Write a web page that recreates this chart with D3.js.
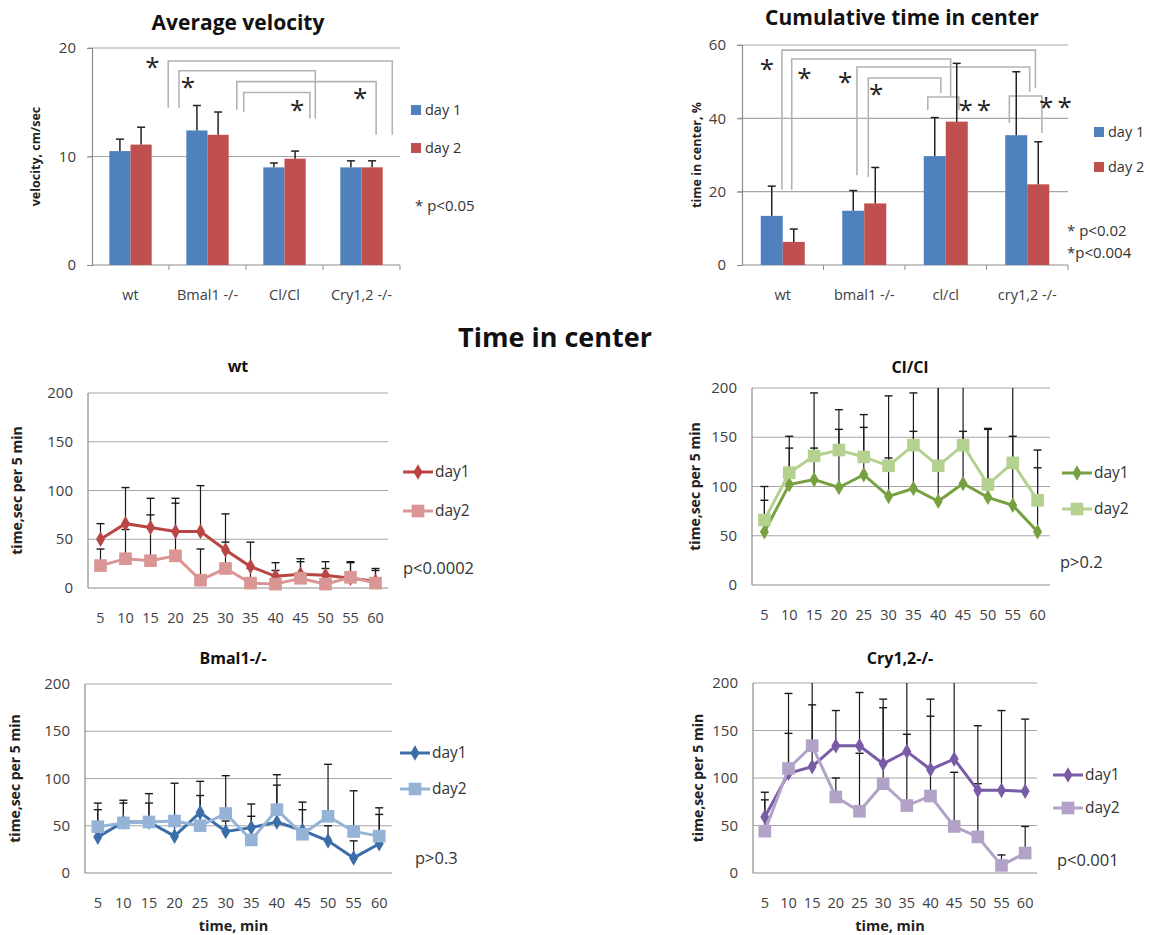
<!DOCTYPE html>
<html>
<head>
<meta charset="utf-8">
<script src="https://cdn.jsdelivr.net/npm/d3@7"></script>
<style>
  body { margin: 0; background: #fff; }
  text { font-family: "Open Sans", "DejaVu Sans", sans-serif; }
</style>
</head>
<body>
<svg id="fig" width="1150" height="935"></svg>
<script>
// ---- data: top bar charts ----
const groups = ['wt', 'Bmal1 -/-', 'Cl/Cl', 'Cry1,2 -/-'];
const groupsLower = ['wt', 'bmal1 -/-', 'cl/cl', 'cry1,2 -/-'];

const velDay1 = [10.5, 12.4, 9.0, 9.0];
const velDay1Top = [11.6, 14.7, 9.4, 9.6];   // mean + SD
const velDay2 = [11.1, 12.0, 9.8, 9.0];
const velDay2Top = [12.7, 14.1, 10.5, 9.6];
const velTicks = [0, 10, 20];

const cenDay1 = [13.4, 14.8, 29.7, 35.4];
const cenDay1Top = [21.5, 20.3, 40.2, 52.7];
const cenDay2 = [6.3, 16.8, 39.1, 22.0];
const cenDay2Top = [9.8, 26.6, 55.0, 33.6];
const cenTicks = [0, 20, 40, 60];

// significance brackets: [left, right] in group units, [top, leftEnd, rightEnd] in data units
const velBrackets = [
  [0.99, 3.90, 18.8, 14.5, 12.0],
  [1.13, 2.90, 17.9, 14.5, 13.5],
  [1.88, 3.69, 16.9, 14.3, 12.0],
  [1.97, 2.83, 15.9, 14.1, 13.5]
];
const velStars = [[0.81, 18.6, '*'], [1.27, 16.8, '*'], [2.69, 14.7, '*'], [3.51, 15.8, '*']];

const cenBrackets = [
  [0.49, 3.60, 58.6, 20.5, 48.3],
  [0.61, 2.56, 56.2, 20.5, 45.8],
  [1.41, 3.53, 54.0, 24.5, 47.2],
  [1.55, 2.44, 51.0, 24.0, 46.9],
  [2.28, 2.66, 45.8, 42.3, 42.3],
  [3.28, 3.68, 46.1, 38.7, 36.0]
];
const cenStars = [[0.33, 54.5, '*'], [0.79, 52.1, '*'], [1.29, 51.0, '*'], [1.67, 47.7, '*'],
                  [2.88, 43.4, '**'], [3.87, 44.2, '**']];

// ---- data: time course charts ----
const minutes = [5, 10, 15, 20, 25, 30, 35, 40, 45, 50, 55, 60];
const lineTicks = [0, 50, 100, 150, 200];

const wtDay1 = [50, 66, 62, 58, 58, 39, 22, 12, 14, 13, 10, 7];
const wtDay1Top = [66, 103, 92, 92, 105, 76, 47, 26, 30, 27, 27, 20];
const wtDay2 = [23, 30, 28, 33, 8, 20, 5, 4, 10, 4, 11, 5];
const wtDay2Top = [40, 60, 75, 87, 40, 47, 20, 18, 27, 20, 26, 18];

const clDay1 = [54, 102, 107, 99, 112, 90, 98, 85, 103, 89, 81, 54];
const clDay1Top = [86, 139, 139, 158, 160, 129, 156, 215, 156, 158, 151, 119];
const clDay2 = [66, 114, 131, 137, 130, 121, 142, 121, 142, 102, 124, 86];
const clDay2Top = [100, 151, 195, 178, 173, 192, 195, 230, 230, 159, 230, 137];

const bmDay1 = [38, 54, 54, 39, 64, 44, 48, 54, 45, 34, 16, 31];
const bmDay1Top = [67, 74, 74, 50, 82, 55, 60, 93, 67, 50, 34, 62];
const bmDay2 = [49, 53, 54, 55, 50, 63, 35, 67, 41, 60, 44, 39];
const bmDay2Top = [74, 77, 84, 95, 97, 103, 73, 104, 75, 115, 87, 69];

const cryDay1 = [59, 105, 112, 134, 134, 115, 128, 109, 120, 87, 87, 86];
const cryDay1Top = [85, 147, 177, 171, 190, 174, 215, 165, 215, 155, 171, 162];
const cryDay2 = [44, 110, 134, 80, 65, 94, 71, 81, 49, 38, 8, 21];
const cryDay2Top = [77, 189, 215, 100, 126, 183, 146, 183, 106, 94, 19, 49];

// ---- colours ----
const barBlue = '#4f81bd';
const barRed = '#c0504d';
const gridColor = '#a6a6a6';
const bracketColor = '#b3b3b3';
const tickText = '#404040';

const svg = d3.select('#fig');

function barChart(o) {
  const x = d3.scaleBand().domain(o.cats).range([o.left, o.right])
    .paddingInner(o.pad).paddingOuter(o.pad / 2);
  const xs = d3.scaleBand().domain(['d1', 'd2']).range([0, x.bandwidth()]);
  const gx = d3.scaleLinear().domain([0, o.cats.length]).range([o.left, o.right]);
  const y = d3.scaleLinear().domain([0, o.max]).range([o.bottom, o.top]);
  const g = svg.append('g');

  g.append('text').attr('x', o.titleX).attr('y', o.titleY).attr('text-anchor', 'middle')
    .attr('font-size', 21).attr('font-weight', 'bold').attr('fill', '#111').text(o.title);

  g.selectAll('.grid').data(o.ticks.filter(t => t > 0)).join('line')
    .attr('x1', o.left - 4).attr('x2', o.right)
    .attr('y1', d => y(d)).attr('y2', d => y(d))
    .attr('stroke', gridColor).attr('stroke-width', 1.2);

  const ya = g.append('g').attr('transform', `translate(${o.left},0)`)
    .call(d3.axisLeft(y).tickValues(o.ticks).tickSize(5).tickPadding(11));
  ya.select('.domain').attr('stroke', '#8c8c8c').attr('stroke-width', 1.2);
  ya.selectAll('.tick line').attr('stroke', '#8c8c8c');
  ya.selectAll('.tick text').attr('font-size', 15).attr('fill', tickText)
    .style('font-family', '"Open Sans", sans-serif');

  g.append('line').attr('x1', o.left).attr('x2', o.right)
    .attr('y1', o.bottom).attr('y2', o.bottom)
    .attr('stroke', '#8c8c8c').attr('stroke-width', 1.2);
  g.selectAll('.xt').data(d3.range(1, o.cats.length + 1)).join('line')
    .attr('x1', d => gx(d)).attr('x2', d => gx(d))
    .attr('y1', o.bottom).attr('y2', o.bottom + 5)
    .attr('stroke', '#8c8c8c');
  g.selectAll('.xl').data(o.cats).join('text')
    .attr('x', d => x(d) + x.bandwidth() / 2).attr('y', o.bottom + 35)
    .attr('text-anchor', 'middle').attr('font-size', 14.5).attr('fill', tickText)
    .text(d => d);

  g.append('text').attr('transform', `translate(${o.ylabX},${(o.top + o.bottom) / 2}) rotate(-90)`)
    .attr('text-anchor', 'middle').attr('font-size', 12.5).attr('font-weight', 'bold')
    .attr('fill', '#222').text(o.ylab);

  // brackets
  g.selectAll('.br').data(o.brackets).join('path')
    .attr('d', b => `M${gx(b[0])},${y(b[3])}V${y(b[2])}H${gx(b[1])}V${y(b[4])}`)
    .attr('fill', 'none').attr('stroke', bracketColor).attr('stroke-width', 1.6);
  g.selectAll('.st').data(o.stars).join('text')
    .attr('x', s => gx(s[0])).attr('y', s => y(s[1]) + 13)
    .attr('text-anchor', 'middle').attr('font-size', 26).attr('fill', '#222')
    .attr('letter-spacing', 4)
    .text(s => s[2]);

  const rows = o.cats.flatMap((c, i) => [
    { c, k: 'd1', v: o.d1[i], top: o.d1Top[i], color: barBlue },
    { c, k: 'd2', v: o.d2[i], top: o.d2Top[i], color: barRed }
  ]);
  g.selectAll('.bar').data(rows).join('rect')
    .attr('x', d => x(d.c) + xs(d.k)).attr('width', xs.bandwidth())
    .attr('y', d => y(d.v)).attr('height', d => o.bottom - y(d.v))
    .attr('fill', d => d.color);
  const eb = g.selectAll('.eb').data(rows).join('g')
    .attr('transform', d => `translate(${x(d.c) + xs(d.k) + xs.bandwidth() / 2},0)`);
  eb.append('line').attr('y1', d => y(d.v)).attr('y2', d => y(d.top))
    .attr('stroke', '#222').attr('stroke-width', 1.5);
  eb.append('line').attr('x1', -4).attr('x2', 4)
    .attr('y1', d => y(d.top)).attr('y2', d => y(d.top))
    .attr('stroke', '#222').attr('stroke-width', 1.5);

  // legend
  const lg = g.selectAll('.lg').data([['day 1', barBlue, o.legY[0]], ['day 2', barRed, o.legY[1]]])
    .join('g').attr('transform', d => `translate(${o.legX},${d[2]})`);
  lg.append('rect').attr('x', 0).attr('y', -5).attr('width', 10).attr('height', 10)
    .attr('fill', d => d[1]);
  lg.append('text').attr('x', 14).attr('y', 5).attr('font-size', 14.5).attr('fill', '#333')
    .text(d => d[0]);

  g.selectAll('.pv').data(o.pText).join('text')
    .attr('x', o.pX).attr('y', (d, i) => o.pY + i * 22)
    .attr('font-size', 15).attr('fill', '#333').text(d => d);
}

function lineChart(o) {
  const x = d3.scaleBand().domain(minutes).range([o.left, o.right]);
  const px = m => x(m) + x.bandwidth() / 2;
  const y = d3.scaleLinear().domain([0, 200]).range([o.bottom, o.top]);
  const g = svg.append('g');

  g.append('text').attr('x', o.titleX).attr('y', o.titleY).attr('text-anchor', 'middle')
    .attr('font-size', 16).attr('font-weight', 'bold').attr('fill', '#111').text(o.title);

  g.selectAll('.grid').data(lineTicks.filter(t => t > 0)).join('line')
    .attr('x1', o.left).attr('x2', o.right)
    .attr('y1', d => y(d)).attr('y2', d => y(d))
    .attr('stroke', gridColor).attr('stroke-width', 1.2);
  g.append('line').attr('x1', o.left).attr('x2', o.right)
    .attr('y1', o.bottom).attr('y2', o.bottom).attr('stroke', '#8c8c8c').attr('stroke-width', 1.2);
  g.append('line').attr('x1', o.left).attr('x2', o.left)
    .attr('y1', o.bottom).attr('y2', o.top).attr('stroke', '#8c8c8c').attr('stroke-width', 1.2);

  g.selectAll('.yl').data(lineTicks).join('text')
    .attr('x', o.left - 15).attr('y', d => y(d) + 5)
    .attr('text-anchor', 'end').attr('font-size', 15).attr('fill', tickText).text(d => d);
  g.selectAll('.xl').data(minutes).join('text')
    .attr('x', d => px(d)).attr('y', o.bottom + 35)
    .attr('text-anchor', 'middle').attr('font-size', 14.5).attr('fill', tickText).text(d => d);

  g.append('text').attr('transform', `translate(${o.ylabX},${(o.top + o.bottom) / 2}) rotate(-90)`)
    .attr('text-anchor', 'middle').attr('font-size', 14).attr('font-weight', 'bold')
    .attr('fill', '#222').text('time,sec per 5 min');
  if (o.xTitle) {
    g.append('text').attr('x', (o.left + o.right) / 2 - 5).attr('y', o.bottom + 58)
      .attr('text-anchor', 'middle').attr('font-size', 14.5).attr('font-weight', 'bold')
      .attr('fill', '#222').text('time, min');
  }

  const series = [
    { vals: o.d1, tops: o.d1Top, color: o.c1, sym: d3.symbolDiamond, size: 70, name: 'day1' },
    { vals: o.d2, tops: o.d2Top, color: o.c2, sym: d3.symbolSquare, size: 160, name: 'day2' }
  ];

  // error bars (plus only), clipped to the plot top
  series.forEach(s => {
    const eb = g.append('g').selectAll('g').data(minutes).join('g')
      .attr('transform', m => `translate(${px(m)},0)`);
    eb.append('line')
      .attr('y1', (m, i) => y(s.vals[i])).attr('y2', (m, i) => y(Math.min(s.tops[i], 200)))
      .attr('stroke', '#1a1a1a').attr('stroke-width', 1.2);
    eb.filter((m, i) => s.tops[i] <= 200).append('line')
      .attr('x1', -4).attr('x2', 4)
      .attr('y1', m => y(s.tops[minutes.indexOf(m)])).attr('y2', m => y(s.tops[minutes.indexOf(m)]))
      .attr('stroke', '#1a1a1a').attr('stroke-width', 1.4);
  });

  const line = d3.line().x((d, i) => px(minutes[i])).y(d => y(d));
  series.forEach(s => {
    g.append('path').datum(s.vals).attr('d', line)
      .attr('fill', 'none').attr('stroke', s.color).attr('stroke-width', 3);
    g.append('g').selectAll('path').data(s.vals).join('path')
      .attr('transform', (d, i) => `translate(${px(minutes[i])},${y(d)})`)
      .attr('d', d3.symbol().type(s.sym).size(s.size))
      .attr('fill', s.color);
  });

  // legend
  const lg = g.selectAll('.lg').data(series).join('g')
    .attr('transform', (s, i) => `translate(${o.legX},${o.legY[i]})`);
  lg.append('line').attr('x1', 0).attr('x2', 30).attr('stroke', s => s.color).attr('stroke-width', 3);
  lg.append('path').attr('transform', 'translate(15,0)')
    .attr('d', s => d3.symbol().type(s.sym).size(s.size)()).attr('fill', s => s.color);
  lg.append('text').attr('x', 32).attr('y', 5).attr('font-size', 15.5).attr('fill', '#333')
    .text(s => s.name);

  g.append('text').attr('x', o.pX).attr('y', o.pY).attr('font-size', 16.5)
    .attr('fill', '#333').text(o.pText);
}

barChart({
  cats: groups, left: 92, right: 400, top: 48, bottom: 265, max: 20, ticks: velTicks, pad: 0.45,
  d1: velDay1, d1Top: velDay1Top, d2: velDay2, d2Top: velDay2Top,
  title: 'Average velocity', titleX: 238, titleY: 30,
  ylab: 'velocity, cm/sec', ylabX: 40,
  brackets: velBrackets, stars: velStars,
  legX: 411, legY: [110, 148], pText: ['* p<0.05'], pX: 415, pY: 211
});

barChart({
  cats: groupsLower, left: 742, right: 1068, top: 45, bottom: 265, max: 60, ticks: cenTicks, pad: 0.46,
  d1: cenDay1, d1Top: cenDay1Top, d2: cenDay2, d2Top: cenDay2Top,
  title: 'Cumulative time in center', titleX: 902, titleY: 25,
  ylab: 'time in center, %', ylabX: 701,
  brackets: cenBrackets, stars: cenStars,
  legX: 1094, legY: [132, 167], pText: ['* p<0.02', '*p<0.004'], pX: 1067, pY: 236
});

svg.append('text').attr('x', 555).attr('y', 347).attr('text-anchor', 'middle')
  .attr('font-size', 27).attr('font-weight', 'bold').attr('fill', '#111').text('Time in center');

lineChart({
  left: 88, right: 388, top: 393, bottom: 588, title: 'wt', titleX: 238, titleY: 372,
  d1: wtDay1, d1Top: wtDay1Top, d2: wtDay2, d2Top: wtDay2Top, c1: '#b94643', c2: '#d99694',
  ylabX: 22, legX: 403, legY: [472, 511], pText: 'p<0.0002', pX: 403, pY: 574
});
lineChart({
  left: 752, right: 1050, top: 388, bottom: 585, title: 'Cl/Cl', titleX: 910, titleY: 373,
  d1: clDay1, d1Top: clDay1Top, d2: clDay2, d2Top: clDay2Top, c1: '#77a140', c2: '#b5d18f',
  ylabX: 700, legX: 1062, legY: [473, 509], pText: 'p>0.2', pX: 1060, pY: 568
});
lineChart({
  left: 85, right: 392, top: 684, bottom: 873, title: 'Bmal1-/-', titleX: 233, titleY: 664,
  d1: bmDay1, d1Top: bmDay1Top, d2: bmDay2, d2Top: bmDay2Top, c1: '#3b6ea8', c2: '#95b3d7',
  ylabX: 20, legX: 400, legY: [753, 789], pText: 'p>0.3', pX: 415, pY: 864, xTitle: true
});
lineChart({
  left: 753, right: 1037, top: 683, bottom: 873, title: 'Cry1,2-/-', titleX: 900, titleY: 664,
  d1: cryDay1, d1Top: cryDay1Top, d2: cryDay2, d2Top: cryDay2Top, c1: '#7a5ba6', c2: '#b3a2c7',
  ylabX: 703, legX: 1053, legY: [775, 808], pText: 'p<0.001', pX: 1057, pY: 866, xTitle: true
});
</script>
</body>
</html>
